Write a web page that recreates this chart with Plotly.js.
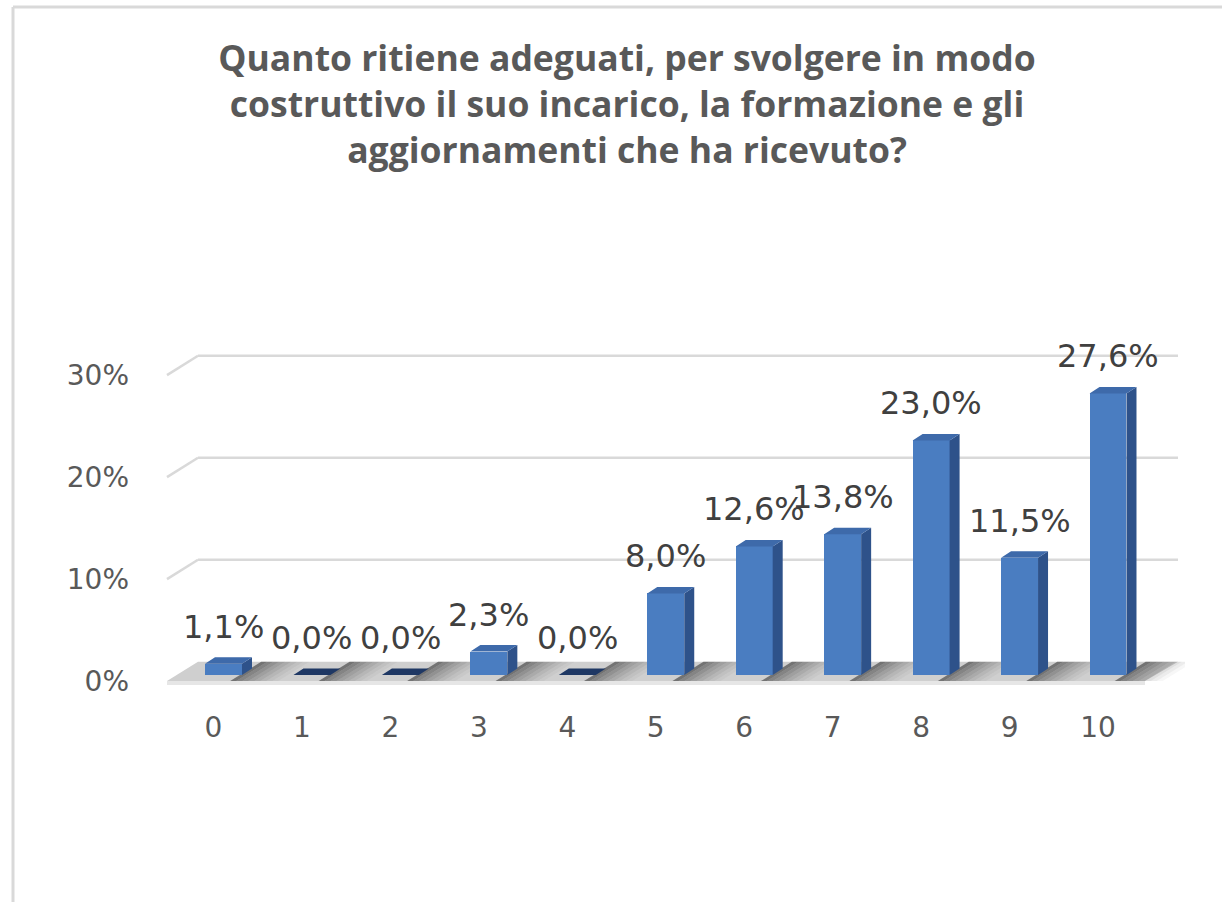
<!DOCTYPE html>
<html>
<head>
<meta charset="utf-8">
<script src="https://cdn.plot.ly/plotly-3.0.1.min.js"></script>
<style>
  html, body { margin: 0; padding: 0; background: #ffffff; }
  #chart { width: 1222px; height: 902px; }
</style>
</head>
<body>
<div id="chart"></div>
<script>
// ---------------- DATA ----------------
const categories = ['0', '1', '2', '3', '4', '5', '6', '7', '8', '9', '10'];
const percentages = [1.1, 0.0, 0.0, 2.3, 0.0, 8.0, 12.6, 13.8, 23.0, 11.5, 27.6];
const valueLabels = ['1,1%', '0,0%', '0,0%', '2,3%', '0,0%', '8,0%', '12,6%', '13,8%', '23,0%', '11,5%', '27,6%'];
const yTickValues = [0, 10, 20, 30];
const yTickLabels = ['0%', '10%', '20%', '30%'];
const titleText = 'Quanto ritiene adeguati, per svolgere in modo<br>costruttivo il suo incarico, la formazione e gli<br>aggiornamenti che ha ricevuto?';

// ---------------- GEOMETRY (styling only) ----------------
const W = 1222, H = 902;
const L = 160, R = 1185, T = 320, B = 700;      // plot area in px
const X0PX = 223.5, XSTEP = 88.45;               // category scale
const Y0PX = 675, YSTEP = 10.2;                  // value scale (px per %)
const px2x = px => (px - X0PX) / XSTEP;
const py2y = py => (Y0PX - py) / YSTEP;
const xRange = [px2x(L), px2x(R)];
const yRange = [py2y(B), py2y(T)];
const labelAxisShift = 0.6;   // front plane offset for axis labels (in %)
const backShift = 1.3;        // back wall offset (in %)
const barW = 0.418;
const dX = 10 / XSTEP, dY = 6.5 / YSTEP;          // bar depth
const idx = categories.map((c, i) => i);

const paperX = px => (px - L) / (R - L);
const paperY = py => (B - py) / (B - T);

// ---------------- TRACES ----------------
const traces = [];

// front faces of bars
traces.push({
  type: 'bar',
  x: idx,
  y: percentages,
  width: barW,
  marker: { color: '#4a7dc1', line: { width: 0 } },
  hoverinfo: 'skip',
  showlegend: false,
  xaxis: 'x', yaxis: 'y'
});

// side faces (built from the data)
const sideX = [], sideY = [];
idx.forEach((xi, i) => {
  const v = percentages[i];
  if (v <= 0) return;
  const xr = xi + barW / 2;
  sideX.push(xr, xr, xr + dX, xr + dX, xr, null);
  sideY.push(0, v, v + dY, dY, 0, null);
});
traces.push({
  type: 'scatter', mode: 'lines', x: sideX, y: sideY,
  fill: 'toself', fillcolor: '#2e528a', line: { width: 0, color: '#2e528a' },
  hoverinfo: 'skip', showlegend: false
});

// top faces (built from the data)
function topFace(filterFn, color) {
  const tx = [], ty = [];
  idx.forEach((xi, i) => {
    const v = percentages[i];
    if (!filterFn(v)) return;
    const xl = xi - barW / 2, xr = xi + barW / 2;
    tx.push(xl, xr, xr + dX, xl + dX, xl, null);
    ty.push(v, v, v + dY, v + dY, v, null);
  });
  return {
    type: 'scatter', mode: 'lines', x: tx, y: ty,
    fill: 'toself', fillcolor: color, line: { width: 0, color: color },
    hoverinfo: 'skip', showlegend: false
  };
}
traces.push(topFace(v => v > 0, '#3e6aaa'));
traces.push(topFace(v => v <= 0, '#1f3864'));

// dummy trace to activate the label axis
traces.push({
  type: 'scatter', mode: 'markers', x: [idx[0]], y: [yTickValues[0]],
  yaxis: 'y2', marker: { opacity: 0 }, hoverinfo: 'skip', showlegend: false
});

// ---------------- SHAPES (decoration) ----------------
const shapes = [];
const gridColor = '#d9d9d9';
// back wall gridlines + left diagonals
yTickValues.forEach(v => {
  if (v === 0) return;
  shapes.push({
    type: 'line', layer: 'below', xref: 'x', yref: 'y',
    x0: px2x(198), x1: px2x(1178), y0: v + backShift, y1: v + backShift,
    line: { color: gridColor, width: 2.5 }
  });
  shapes.push({
    type: 'line', layer: 'below', xref: 'x', yref: 'y',
    x0: px2x(167), x1: px2x(198), y0: v - labelAxisShift, y1: v + backShift,
    line: { color: gridColor, width: 2.5 }
  });
});
// floor
const fFL = [px2x(167), -labelAxisShift], fFR = [px2x(1145), -labelAxisShift];
const fBR = [px2x(1178), backShift], fBL = [px2x(198), backShift];
shapes.push({
  type: 'path', layer: 'below', xref: 'x', yref: 'y',
  path: `M${fFL[0]},${fFL[1]} L${fFR[0]},${fFR[1]} L${fBR[0]},${fBR[1]} L${fBL[0]},${fBL[1]} Z`,
  fillcolor: '#cfcfcf', line: { width: 0 }
});
// floor front edge
const edge = py2y(685);
shapes.push({
  type: 'path', layer: 'below', xref: 'x', yref: 'y',
  path: `M${fFL[0]},${fFL[1]} L${fFR[0]},${fFR[1]} L${fFR[0]},${edge} L${fFL[0]},${edge} Z`,
  fillcolor: '#e6e6e6', line: { width: 0 }
});
// soft shadows to the right of each bar
const slant = (fBL[0] - fFL[0]) / (backShift + labelAxisShift);
const shadowOp = [0.55, 0.45, 0.37, 0.29, 0.22, 0.15, 0.09, 0.04];
const stripW = 6 / XSTEP;
idx.forEach((xi) => {
  const xr = xi + barW / 2 - 2 / XSTEP;
  shadowOp.forEach((op, k) => {
    const a = xr + k * stripW, b = a + stripW;
    const fy = -labelAxisShift, by = backShift;
    const fx = slant * fy;
    const bx = slant * by;
    shapes.push({
      type: 'path', layer: 'below', xref: 'x', yref: 'y',
      path: `M${a + fx},${fy} L${b + fx},${fy} L${b + bx},${by} L${a + bx},${by} Z`,
      fillcolor: `rgba(40,40,40,${op})`, line: { width: 0 }
    });
  });
});
// outer frame (top + left)
shapes.push({
  type: 'line', xref: 'paper', yref: 'paper',
  x0: paperX(13), x1: paperX(1222), y0: paperY(7), y1: paperY(7),
  line: { color: '#d9d9d9', width: 3 }
});
shapes.push({
  type: 'line', xref: 'paper', yref: 'paper',
  x0: paperX(13), x1: paperX(13), y0: paperY(7), y1: paperY(902),
  line: { color: '#d9d9d9', width: 3 }
});

// ---------------- VALUE LABELS ----------------
const annotations = idx.map((xi, i) => ({
  x: xi, y: percentages[i], xref: 'x', yref: 'y',
  text: valueLabels[i], showarrow: false,
  xanchor: 'center', yanchor: 'middle', yshift: 37,
  font: { family: 'DejaVu Sans', size: 32, color: '#404040' }
}));

// ---------------- LAYOUT ----------------
const layout = {
  width: W, height: H,
  margin: { l: L, r: W - R, t: T, b: H - B, pad: 0 },
  paper_bgcolor: '#ffffff',
  plot_bgcolor: 'rgba(0,0,0,0)',
  showlegend: false,
  title: {
    text: titleText,
    xref: 'container', x: 627 / W, xanchor: 'center',
    yref: 'container', y: 1 - 71 / H, yanchor: 'top',
    font: { family: 'Open Sans', size: 35.5, color: '#595959', weight: 'bold' }
  },
  xaxis: {
    range: xRange, tickmode: 'array', tickvals: idx, ticktext: categories,
    showgrid: false, zeroline: false, showline: false, ticks: '',
    ticklabelshift: -10, ticklabelstandoff: 8,
    tickfont: { family: 'DejaVu Sans', size: 28, color: '#595959' },
    fixedrange: true
  },
  yaxis: {
    range: yRange, showgrid: false, zeroline: false, showline: false,
    showticklabels: false, ticks: '', fixedrange: true
  },
  yaxis2: {
    overlaying: 'y', side: 'left',
    range: [yRange[0] + labelAxisShift, yRange[1] + labelAxisShift],
    tickmode: 'array', tickvals: yTickValues, ticktext: yTickLabels,
    showgrid: false, zeroline: false, showline: false, ticks: '',
    ticklabelstandoff: 30,
    tickfont: { family: 'DejaVu Sans', size: 28, color: '#595959' },
    fixedrange: true
  },
  shapes: shapes,
  annotations: annotations,
  bargap: 0
};

Plotly.newPlot('chart', traces, layout, { staticPlot: true, displayModeBar: false });
</script>
</body>
</html>
